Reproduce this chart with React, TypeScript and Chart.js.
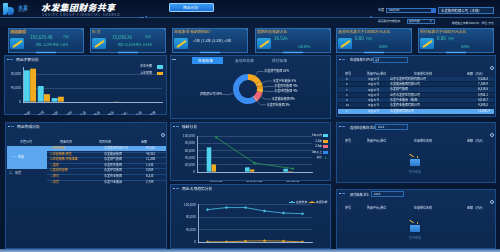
import React, { useEffect, useRef } from "react";
import { Chart, registerables } from "chart.js";
Chart.register(...registerables);

const FONT = '"Noto Sans CJK SC","Noto Sans",sans-serif';
Chart.defaults.font.family = FONT;

// ---- data ----
const balanceCategories = ["应收账款", "其他应收款项", "预付账款", "原材料", "在产品", "库存商品", "发出商品", "合同履约成本(开发成本)", "开发产品", "其他"];
const balanceThisYear = [90600, 45800, 11200, 0, 0, 0, 0, 0, 0, 0];
const balanceLastYear = [95300, 22400, 15000, 0, 0, 0, 1500, 0, 0, 0];
const balanceSeriesNames = ["本年余额", "上年同期"];

const donutLabels = ["水发燃气集团", "水发兴业能源", "水发民生集团", "水发环境集团", "水发能源集团", "水发农业集团", "水发集团有限公司"];
const donutValues = [16, 5, 4, 4, 9, 3, 59];

const agingCategories = ["应收账款", "其他应收款", "预付账款"];
const agingWithin1 = [68500, 13000, 9000];
const aging1to2 = [21000, 7000, 2000];
const aging2to3 = [0, 0, 0];
const agingOver3 = [0, 0, 0];
const agingRatio = [96, 25, 9.5];
const agingNames = ["1年以内", "1-2年", "2-3年", "3年以上", "占比"];

const trendMonths = ["01", "02", "03", "04", "05", "06"];
const trendReceivable = [103600, 110200, 110200, 99300, 92700, 90500];
const trendInventory = [500, 500, 3000, 4000, 3000, 300];
const trendNames = ["应收账款", "存货余额"];

const cardTitles = ["应收款项", "存  货", "应收款项-账龄期间比*", "超期应收账款占比", "其他应收款大于10000万元占比", "预付账款大于5000万元占比"];
const topRowsSeq = ["4", "6", "7", "8", "9", "10", "1"];
const compositionItems = ["—应收账款", "1.应收账款-原值", "2.应收账款-坏账准备", "—其他", "1.其他应收款", "—预付", "—存货"];

const C = {
  cyan: "#4fd3ef",
  orange: "#f0ac1e",
  pink: "#f26d7d",
  blue: "#2f86ec",
  green: "#2f9a55",
  axis: "#b9cbe6",
  grid: "rgba(170,195,230,0.35)",
};

const fmt = (v: any) => Number(v).toLocaleString("en-US");

function ChartCanvas({ l, t, w, h, make }: { l: number; t: number; w: number; h: number; make: () => any }) {
  const ref = useRef<HTMLCanvasElement>(null);
  useEffect(() => {
    const c = new Chart(ref.current as HTMLCanvasElement, make());
    return () => c.destroy();
  }, []);
  return <canvas ref={ref} width={w} height={h} style={{ position: "absolute", left: l, top: t, width: w, height: h }} />;
}

const tickFont = { size: 3.4 };

function makeBalance() {
  return {
    type: "bar",
    data: {
      labels: balanceCategories,
      datasets: [
        { label: balanceSeriesNames[0], data: balanceThisYear, backgroundColor: C.cyan, categoryPercentage: 0.9, barPercentage: 0.95 },
        { label: balanceSeriesNames[1], data: balanceLastYear, backgroundColor: C.orange, categoryPercentage: 0.9, barPercentage: 0.95 },
      ],
    },
    options: {
      animation: false,
      responsive: false,
      plugins: { legend: { display: false }, tooltip: { enabled: false } },
      layout: { padding: { top: 2, right: 3, left: 0, bottom: 0 } },
      scales: {
        x: {
          grid: { display: false },
          border: { color: "rgba(200,220,250,0.7)" },
          ticks: { color: C.axis, font: tickFont, maxRotation: 40, minRotation: 40, autoSkip: false, padding: 0 },
          afterFit: (s: any) => { s.height = 13; },
        },
        y: {
          min: 0, max: 100000,
          ticks: { stepSize: 20000, color: C.axis, font: tickFont, padding: 2, callback: fmt },
          grid: { color: C.grid, drawTicks: false, lineWidth: 0.6 },
          border: { color: "rgba(200,220,250,0.7)" },
          afterFit: (s: any) => { s.width = 18; },
        },
      },
    },
  };
}

const donutLabelPlugin = {
  id: "donutLabels",
  afterDraw(chart: any) {
    const ctx = chart.ctx;
    const meta = chart.getDatasetMeta(0);
    ctx.save();
    ctx.font = `3px ${FONT}`;
    ctx.lineWidth = 0.4;
    ctx.strokeStyle = "rgba(225,235,248,0.75)";
    ctx.fillStyle = "#e6eef9";
    ctx.textBaseline = "bottom";
    meta.data.forEach((arc: any, i: number) => {
      const p = arc.getProps(["x", "y", "startAngle", "endAngle", "outerRadius"], true);
      const mid = (p.startAngle + p.endAngle) / 2;
      const cs = Math.cos(mid), sn = Math.sin(mid);
      const x1 = p.x + cs * (p.outerRadius + 0.5), y1 = p.y + sn * (p.outerRadius + 0.5);
      const x2 = p.x + cs * (p.outerRadius + 5), y2 = p.y + sn * (p.outerRadius + 5);
      const right = cs >= 0;
      const x3 = x2 + (right ? 6 : -6);
      ctx.beginPath();
      ctx.moveTo(x1, y1);
      ctx.lineTo(x2, y2);
      ctx.lineTo(x3, y2);
      ctx.stroke();
      ctx.textAlign = right ? "left" : "right";
      const pct = donutValues[i];
      ctx.fillText(`${donutLabels[i]} ${pct}%`, x3 + (right ? 0.5 : -0.5), y2 + 1.2);
    });
    ctx.restore();
  },
};

function makeDonut() {
  return {
    type: "doughnut",
    data: {
      labels: donutLabels,
      datasets: [{
        data: donutValues,
        backgroundColor: ["#f4a71f", "#f1b02a", "#e99d1b", "#f3b533", "#ef6472", "#f58b8f", "#3b8cf0"],
        borderWidth: 0,
      }],
    },
    options: {
      animation: false,
      responsive: false,
      cutout: "60%",
      layout: { padding: { top: 7, bottom: 11, left: 33, right: 37 } },
      plugins: { legend: { display: false }, tooltip: { enabled: false } },
    },
    plugins: [donutLabelPlugin],
  };
}

function makeAging() {
  const bar = (label: string, data: number[], color: string) => ({
    type: "bar", label, data, backgroundColor: color, categoryPercentage: 0.5, barPercentage: 0.95, yAxisID: "y", order: 2,
  });
  return {
    type: "bar",
    data: {
      labels: agingCategories,
      datasets: [
        bar(agingNames[0], agingWithin1, C.cyan),
        bar(agingNames[1], aging1to2, C.orange),
        bar(agingNames[2], aging2to3, C.pink),
        bar(agingNames[3], agingOver3, C.blue),
        {
          type: "line", label: agingNames[4], data: agingRatio, borderColor: C.green, backgroundColor: C.green,
          borderWidth: 0.8, pointRadius: 0.8, yAxisID: "y1", order: 1,
        },
      ],
    },
    options: {
      animation: false,
      responsive: false,
      plugins: { legend: { display: false }, tooltip: { enabled: false } },
      layout: { padding: { top: 6, right: 20, left: 0, bottom: 0 } },
      scales: {
        x: {
          grid: { display: false },
          border: { color: "rgba(200,220,250,0.7)" },
          ticks: { color: C.axis, font: tickFont, maxRotation: 0, padding: 1 },
          afterFit: (s: any) => { s.height = 10; },
        },
        y: {
          min: 0, max: 100000,
          ticks: { stepSize: 20000, color: C.axis, font: tickFont, padding: 2, callback: fmt },
          grid: { color: C.grid, drawTicks: false, lineWidth: 0.6 },
          border: { color: "rgba(200,220,250,0.7)" },
          afterFit: (s: any) => { s.width = 25; },
        },
        y1: { display: false, min: 0, max: 100 },
      },
    },
  };
}

function makeTrend() {
  return {
    type: "line",
    data: {
      labels: trendMonths,
      datasets: [
        { label: trendNames[0], data: trendReceivable, borderColor: "#46c3e4", backgroundColor: "#46c3e4", borderWidth: 0.8, pointRadius: 0.9 },
        { label: trendNames[1], data: trendInventory, borderColor: "#e9a423", backgroundColor: "#e9a423", borderWidth: 0.8, pointRadius: 0.9 },
      ],
    },
    options: {
      animation: false,
      responsive: false,
      plugins: { legend: { display: false }, tooltip: { enabled: false } },
      layout: { padding: { top: 6.5, right: 20, left: 0, bottom: 0 } },
      scales: {
        x: {
          offset: true,
          grid: { display: false },
          border: { color: "rgba(200,220,250,0.7)" },
          ticks: { color: C.axis, font: tickFont, maxRotation: 0, padding: 1 },
          afterFit: (s: any) => { s.height = 8; },
        },
        y: {
          min: 0, max: 120000,
          ticks: { stepSize: 20000, color: C.axis, font: tickFont, padding: 2, callback: fmt },
          grid: { color: C.grid, drawTicks: false, lineWidth: 0.6 },
          border: { color: "rgba(200,220,250,0.7)" },
          afterFit: (s: any) => { s.width = 26; },
        },
      },
    },
  };
}

// ---- layout helpers ----
type CSS = React.CSSProperties;
const A = (l: number, t: number, w?: number, h?: number, extra: CSS = {}): CSS => ({ position: "absolute", left: l, top: t, width: w, height: h, ...extra });

function T({ l, t, s = 3.5, c = "#dfe8f5", style = {}, children }: { l: number; t: number; s?: number; c?: string; style?: CSS; children: any }) {
  return <div style={{ position: "absolute", left: l, top: t, fontSize: s, color: c, lineHeight: 1, whiteSpace: "nowrap", ...style }}>{children}</div>;
}

const panelStyle: CSS = {
  background: "linear-gradient(180deg,#0f2e5a 0%,#0c2850 100%)",
  border: "1px solid #1c4d88",
  boxSizing: "border-box",
};

function Panel({ l, t, w, h, title }: { l: number; t: number; w: number; h: number; title?: string }) {
  return (
    <>
      <div style={A(l, t, w, h, panelStyle)} />
      {title !== undefined && (
        <>
          <div style={A(l + 3, t + 4, 2, 1, { background: "#7fb6f0" })} />
          <div style={A(l + 6, t + 4, 3, 1, { background: "#4d86c8" })} />
          <T l={l + 12} t={t + 2.5} s={3.8} c="#e8f0fb">{title}</T>
        </>
      )}
    </>
  );
}

function Gear({ l, t }: { l: number; t: number }) {
  return <div style={A(l, t, 4, 4, { borderRadius: "50%", border: "0.8px solid #9fc0e8", boxSizing: "border-box" })} />;
}

function PencilIcon({ l, t, w = 14, h = 11 }: { l: number; t: number; w?: number; h?: number }) {
  return (
    <>
      <div style={A(l, t, w, h, { background: "linear-gradient(180deg,#2aa3e0,#1775c4)", borderRadius: 1.5 })} />
      <div style={A(l + 2, t + h / 2 - 1, w - 3, 2.2, { background: "#f2c531", transform: "rotate(-35deg)", borderRadius: 0.5 })} />
    </>
  );
}

function EmptyBox({ cx, cy }: { cx: number; cy: number }) {
  return (
    <>
      <div style={A(cx - 5, cy - 3, 10, 7, { background: "linear-gradient(180deg,#4aa3f0,#2c78d0)", borderRadius: 0.8 })} />
      <div style={A(cx - 6, cy - 7, 5, 1.3, { background: "#f2c531", transform: "rotate(35deg)" })} />
      <div style={A(cx + 1.5, cy - 6, 1.6, 1.6, { background: "#f2c531", borderRadius: "50%" })} />
      <T l={cx - 6} t={cy + 8.5} s={3} c="#4f78a8">暂无数据</T>
    </>
  );
}

function TableHeader({ l, t }: { l: number; t: number }) {
  return (
    <>
      <T l={l + 8} t={t} s={3} c="#cfe0f5">序号</T>
      <T l={l + 30} t={t} s={3} c="#cfe0f5">所属平台/单位</T>
      <T l={l + 77} t={t} s={3} c="#cfe0f5">往来单位名称</T>
      <T l={l + 130} t={t} s={3} c="#cfe0f5">金额（万元）</T>
    </>
  );
}

const blur: CSS = { filter: "blur(0.45px)" };

export default function App() {
  useEffect(() => {
    document.body.style.margin = "0";
    document.body.style.background = "#081731";
  }, []);
  const cardLefts = [8, 90, 172, 255, 336, 418];
  return (
    <div style={{ position: "fixed", left: 0, top: 0, width: 500, height: 252, overflow: "hidden", background: "radial-gradient(ellipse at 50% 40%,#0c2346 0%,#081731 70%)", fontFamily: FONT }}>
      {/* header */}
      <div style={A(0, 0, 500, 26, { background: "linear-gradient(180deg,#06122a,#0a1c3a)" })} />
      <div style={A(0, 17, 140, 0.6, { background: "#24558e" })} />
      <div style={A(140, 17, 4, 0.6, { background: "#3b7ed0" })} />
      <div style={A(145, 16, 2, 2, { background: "#2f78d0", borderRadius: "50%" })} />
      <div style={A(147, 17, 225, 0.6, { background: "#1f4c82" })} />
      <div style={A(370, 16, 2, 2, { background: "#2f78d0", borderRadius: "50%" })} />
      <div style={A(372, 17, 128, 0.6, { background: "#24558e" })} />
      {/* logo */}
      <div style={A(3, 3, 5, 12, { background: "linear-gradient(180deg,#5fd0f5,#1f7fe0)", borderRadius: "1px 1px 4px 1px" })} />
      <div style={A(8, 7, 6, 8, { background: "linear-gradient(180deg,#2f9ae8,#1a5fc0)", borderRadius: "0 4px 4px 0" })} />
      <T l={18} t={3.5} s={5} c="#3f92e0" style={{ fontWeight: 700 }}>水发</T>
      <T l={18} t={10} s={2.4} c="#5f8fc8">SHUIFA</T>
      <T l={41} t={2.5} s={9} c="#ffffff" style={{ fontWeight: 900, fontStyle: "italic", letterSpacing: 0.3 }}>水发集团财务共享</T>
      <T l={42} t={13.2} s={3.2} c="#7f9cc4" style={{ letterSpacing: 0.9 }}>SHUIFA GROUP FINANCIAL SHARED</T>
      <div style={A(169, 3, 45, 9, { background: "linear-gradient(180deg,#3a9cf6,#1d6fd6)", border: "0.8px solid #8fd0ff", boxSizing: "border-box", borderRadius: 1 })} />
      <T l={183} t={5.8} s={3.8} c="#ffffff">两金分析</T>
      {/* controls */}
      <T l={378} t={8.5} s={3} c="#cfe0f5">年度</T>
      <div style={A(386, 7.5, 46, 5.5, { border: "0.7px solid #3a74b8", background: "#0a2246", boxSizing: "border-box" })} />
      <T l={389} t={9} s={2.8} c="#cfe0f5">2020/06</T>
      <div style={A(431, 7.5, 5, 5.5, { background: "#2a6ed0" })} />
      <div style={A(438, 6.5, 56, 7, { border: "0.7px solid #3a74b8", background: "#0d2a52", boxSizing: "border-box" })} />
      <T l={441} t={8.5} s={3.4} c="#e8eef8" style={blur}>水发集团有限公司（本部）</T>
      <T l={378} t={19.5} s={2.8} c="#cfe0f5">是否剔除内部往来</T>
      <div style={A(407, 18.5, 28, 5, { border: "0.7px solid #3a74b8", background: "#0a2246", boxSizing: "border-box" })} />
      <T l={409} t={19.7} s={2.7} c="#cfe0f5">剔除内部</T>
      <T l={430} t={19.5} s={2.7} c="#cfe0f5">▾</T>
      <T l={452} t={22} s={2.7} c="#cfe0f5">数据截止日期:2020/06　单位: 万元</T>

      {/* KPI cards */}
      {cardLefts.map((l, i) => (
        <React.Fragment key={i}>
          <div style={A(l, 28, 76, 24.5, { background: "linear-gradient(180deg,#1a4f88 0%,#123d70 60%,#0f3462 100%)", border: "0.8px solid #2d6db0", boxSizing: "border-box" })} />
          <div style={A(l + 28, 51.5, 20, 1, { background: "#4fa8ff", boxShadow: "0 0 2px #4fa8ff" })} />
          <T l={l + 2} t={30} s={3.8} c="#f2b04a" style={i === 0 ? { background: "rgba(220,140,50,0.35)", padding: "0 0.5px" } : {}}>{cardTitles[i]}</T>
          <T l={l + 73} t={29} s={2.5} c="#9fc0e8">▪</T>
          <PencilIcon l={l + 2} t={38} />
        </React.Fragment>
      ))}
      <T l={8 + 22} t={35} s={4.5} c="#3fc9b8" style={blur}>183,625.48</T>
      <T l={8 + 55} t={36} s={3} c="#3fc9b8" style={blur}>万元</T>
      <T l={8 + 28} t={44} s={3} c="#3fc9b8" style={blur}>同比 -3.28%  环比 1.52%</T>
      <T l={90 + 22} t={35} s={4.5} c="#3fc9b8" style={blur}>15,038.26</T>
      <T l={90 + 55} t={36} s={3} c="#3fc9b8" style={blur}>万元</T>
      <T l={90 + 28} t={44} s={3} c="#3fc9b8" style={blur}>同比 12.31%  环比 -0.42%</T>
      <T l={172 + 21} t={38.5} s={3.4} c="#e8f0fb">&lt;1年 | 1-2年 | 2-3年 | &gt;3年</T>
      {[255, 336, 418].map((l, i) => (
        <React.Fragment key={"v" + i}>
          <T l={l + 19} t={36} s={4.5} c="#3fc9b8" style={i === 0 ? blur : {}}>{i === 0 ? "36.52" : "0.00"}</T>
          <T l={l + 30} t={38} s={3} c="#3fc9b8">{i === 0 ? "%" : "万元"}</T>
          <T l={l + 43} t={46} s={3} c="#3fc9b8" style={i === 0 ? blur : {}}>{i === 0 ? "100.00%" : "0.00%"}</T>
        </React.Fragment>
      ))}

      {/* panel 1: balance */}
      <Panel l={4} t={55} w={163} h={60} title="两金余额分析" />
      <ChartCanvas l={5} t={63} w={160} h={52} make={makeBalance} />
      <T l={140} t={65} s={3} c="#dfe8f5">{balanceSeriesNames[0]}</T>
      <div style={A(157, 65, 6, 3.5, { background: C.cyan })} />
      <T l={140} t={71.5} s={3} c="#dfe8f5">{balanceSeriesNames[1]}</T>
      <div style={A(157, 71.5, 6, 3.5, { background: C.orange })} />

      {/* panel 2: donut */}
      <Panel l={170} t={55} w={161} h={64} />
      <div style={A(172, 59, 4, 1, { background: "#7fb6f0" })} />
      <div style={A(192, 57, 31, 6.5, { background: "#2c8ef0", borderRadius: 0.5 })} />
      <T l={198} t={58.5} s={3.8} c="#ffffff">应收账款</T>
      <T l={235} t={58.5} s={3.8} c="#9db4d4">其他应收款</T>
      <T l={272} t={58.5} s={3.8} c="#9db4d4">预付账款</T>
      <ChartCanvas l={200} t={67} w={100} h={48} make={makeDonut} />

      {/* panel 3: top10 table */}
      <Panel l={336} t={55} w={160} h={62} title="" />
      <T l={350} t={58} s={3.2} c="#e8f0fb">应收账款TOP10</T>
      <div style={A(373, 57, 35, 6, { border: "0.7px solid #2b6bb0", boxSizing: "border-box" })} />
      <T l={375} t={58.5} s={2.8} c="#cfe0f5">近3</T>
      <Gear l={489.5} t={65.5} />
      <TableHeader l={337} t={72.5} />
      {topRowsSeq.map((s, i) => {
        const last = i === topRowsSeq.length - 1;
        const top = last ? 108.5 : 77 + i * 5.2;
        return (
          <React.Fragment key={"r" + i}>
            <div style={A(338, top, 156, last ? 6 : 5.2, { background: last ? "#5aa6ef" : i % 2 ? "#0e2d57" : "#123766", borderBottom: "0.5px solid #0a2142", boxSizing: "border-box" })} />
            <T l={346} t={top + 1.2} s={2.8} c="#e6eef9">{s}</T>
            <T l={368} t={top + 1.2} s={2.8} c="#e6eef9">平台公司</T>
            <T l={390} t={top + 1} s={3} c="#e6eef9" style={blur}>{["山东水发环境科技有限公司", "水发能源集团有限公司", "水发燃气集团", "山东水发民生有限公司", "水发兴业能源（珠海）", "水发农业集团有限公司", "水发集团有限公司"][i]}</T>
            <T l={478} t={top + 1} s={3} c="#e6eef9" style={blur}>{["8,526.3", "7,104.9", "6,218.5", "5,902.1", "5,010.7", "4,388.2", "12,630.4"][i]}</T>
          </React.Fragment>
        );
      })}

      {/* panel 4: composition tree table */}
      <Panel l={5} t={122} w={162} h={127} title="两金构成分析" />
      <Gear l={160.5} t={133} />
      <T l={20} t={141} s={3} c="#cfe0f5">主管公司</T>
      <T l={60} t={141} s={3} c="#cfe0f5">两金科目</T>
      <T l={99} t={141} s={3} c="#cfe0f5">项目名称</T>
      <T l={141} t={141} s={3} c="#cfe0f5">金额</T>
      <div style={A(7, 146, 40, 22.5, { background: "#5aa6ef" })} />
      <div style={A(47, 146, 119, 5, { background: "#5aa6ef" })} />
      <T l={12} t={155.5} s={3} c="#ffffff">一、应收</T>
      <T l={9} t={171.5} s={3} c="#e6eef9">二、存货</T>
      {compositionItems.map((s, i) => (
        <React.Fragment key={"c" + i}>
          {i > 0 && <div style={A(47, 146 + i * 5.6, 119, 0.5, { background: "#1b4a80" })} />}
          <T l={50} t={147 + i * 5.6} s={3} c="#f0aa2a">{s}</T>
          <T l={104} t={147 + i * 5.6} s={3} c="#d8e4f4" style={blur}>{["水发集团有限公司", "水发能源集团", "水发燃气集团", "水发民生集团", "水发环境集团", "水发农业集团", "水发兴业能源"][i]}</T>
          <T l={146} t={147 + i * 5.6} s={3} c="#d8e4f4" style={blur}>{["90,562", "45,831", "11,206", "1,532", "8,004", "6,310", "2,788"][i]}</T>
        </React.Fragment>
      ))}

      {/* panel 5: aging */}
      <Panel l={170} t={122} w={161} h={59} title="账龄分析" />
      <ChartCanvas l={172} t={130} w={160} h={52} make={makeAging} />
      {agingNames.map((n, i) => (
        <React.Fragment key={"a" + i}>
          <T l={308} t={134 + i * 5.6} s={2.8} c="#dfe8f5" style={{ width: 14, textAlign: "right" }}>{n}</T>
          {i < 4 ? (
            <div style={A(323, 134 + i * 5.6, 5, 3.2, { background: [C.cyan, C.orange, C.pink, C.blue][i] })} />
          ) : (
            <div style={A(324.5, 134.8 + i * 5.6, 1.8, 1.8, { background: C.green, borderRadius: "50%" })} />
          )}
        </React.Fragment>
      ))}

      {/* panel 6: trend */}
      <Panel l={170} t={184} w={161} h={65} title="两金占用趋势分析" />
      <ChartCanvas l={172} t={198} w={160} h={52} make={makeTrend} />
      <div style={A(289, 201.5, 6, 0.6, { background: "#46c3e4" })} />
      <div style={A(291, 200.8, 2, 2, { background: "#46c3e4", borderRadius: "50%" })} />
      <T l={296} t={200.5} s={2.8} c="#dfe8f5">{trendNames[0]}</T>
      <div style={A(309, 201.5, 6, 0.6, { background: "#e9a423" })} />
      <div style={A(311, 200.8, 2, 2, { background: "#e9a423", borderRadius: "50%" })} />
      <T l={316} t={200.5} s={2.8} c="#dfe8f5">{trendNames[1]}</T>

      {/* panel 7 */}
      <Panel l={336} t={122} w={160} h={61} title="" />
      <T l={350} t={125.5} s={3.2} c="#e8f0fb">其他应收款项 近3</T>
      <div style={A(375, 124, 33, 6, { border: "0.7px solid #2b6bb0", boxSizing: "border-box" })} />
      <T l={378} t={125.5} s={2.8} c="#cfe0f5">2020</T>
      <Gear l={489.5} t={132.5} />
      <TableHeader l={337} t={140} />
      <EmptyBox cx={415} cy={162} />

      {/* panel 8 */}
      <Panel l={336} t={189} w={160} h={60} title="" />
      <T l={350} t={192.5} s={3.2} c="#e8f0fb">预付账款 近3</T>
      <div style={A(371, 191, 33, 6, { border: "0.7px solid #2b6bb0", boxSizing: "border-box" })} />
      <T l={374} t={192.5} s={2.8} c="#cfe0f5">2020</T>
      <Gear l={489.5} t={199.5} />
      <TableHeader l={337} t={207} />
      <EmptyBox cx={415} cy={228} />

      {/* bottom bezel */}
      <div style={A(0, 249, 500, 3, { background: "linear-gradient(180deg,#3c6aa0,#8fb0d8)" })} />
    </div>
  );
}
